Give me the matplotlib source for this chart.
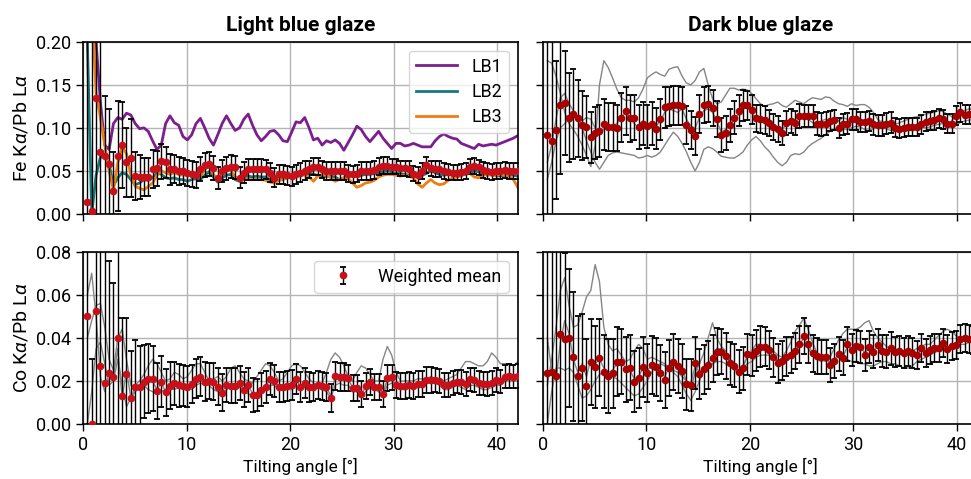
import numpy as np
import matplotlib.pyplot as plt

plt.rcParams['font.family'] = ['Roboto', 'DejaVu Sans']
plt.rcParams['mathtext.fontset'] = 'custom'
plt.rcParams['mathtext.rm'] = 'Roboto'
plt.rcParams['mathtext.it'] = 'Roboto:italic'
plt.rcParams['font.size'] = 12

# tilting angle grid, degrees (100 steps of 0.42)
angle = np.arange(1, 101) * 0.42

# ---- Fe Ka / Pb La, light blue glaze (values x1000) ----
fe_lb_mean = [14, 4, 135, 72, 67, 58, 27, 67, 80, 60,
              65, 44, 43, 43, 43, 52, 53, 61, 60, 52,
              52, 50, 50, 48, 46, 45, 52, 57, 58, 53,
              42, 50, 53, 55, 54, 42, 48, 52, 52, 52,
              52, 52, 48, 42, 46, 46, 45, 44, 46, 48,
              50, 52, 55, 55, 52, 50, 50, 50, 50, 50,
              47, 46, 47, 50, 50, 50, 51, 55, 56, 56,
              55, 55, 53, 53, 52, 47, 45, 50, 57, 53,
              52, 52, 50, 49, 48, 48, 49, 50, 55, 56,
              54, 51, 50, 49, 50, 50, 51, 50, 50, 50]
fe_lb_err = [300, 300, 200, 150, 70, 64, 45, 64, 50, 40,
             45, 28, 25, 22, 22, 22, 20, 20, 18, 18,
             16, 16, 15, 15, 15, 15, 14, 14, 14, 14,
             13, 13, 13, 13, 13, 12, 12, 12, 12, 12,
             12, 11, 11, 11, 11, 11, 11, 11, 11, 11,
             11, 10, 10, 10, 10, 10, 10, 10, 10, 10,
             10, 10, 10, 10, 10, 10, 10, 10, 10, 10,
             9, 9, 9, 9, 9, 9, 9, 9, 9, 9,
             9, 9, 9, 9, 9, 9, 9, 9, 9, 9,
             9, 9, 9, 9, 9, 9, 9, 9, 9, 9]
fe_lb1 = [400, 300, 200, 130, 80, 75, 105, 112, 110, 117,
          115, 105, 99, 100, 96, 85, 75, 80, 105, 114,
          106, 103, 90, 86, 92, 105, 111, 100, 88, 80,
          92, 105, 114, 105, 97, 100, 110, 116, 103, 92,
          85, 90, 96, 97, 92, 85, 84, 95, 107, 106,
          112, 100, 86, 88, 80, 85, 83, 86, 82, 74,
          83, 92, 102, 98, 90, 84, 90, 96, 88, 82,
          76, 82, 82, 79, 80, 82, 80, 78, 78, 78,
          85, 90, 93, 90, 88, 87, 82, 80, 78, 76,
          81, 79, 80, 81, 80, 82, 84, 86, 88, 91]
fe_lb2 = [200, 0, 45, 66, 67, 58, 33, 42, 48, 46,
          40, 34, 36, 40, 39, 42, 48, 46, 42, 41,
          42, 40, 40, 38, 40, 41, 40, 45, 49, 43,
          37, 42, 45, 46, 40, 38, 43, 44, 43, 44,
          43, 43, 40, 38, 39, 41, 42, 43, 44, 45,
          46, 47, 46, 45, 43, 44, 44, 43, 40, 42,
          43, 45, 44, 45, 46, 46, 47, 48, 49, 50,
          49, 47, 47, 46, 45, 46, 44, 45, 47, 50,
          48, 46, 45, 46, 45, 44, 45, 46, 48, 50,
          49, 47, 45, 46, 45, 44, 45, 46, 45, 44]
fe_lb3 = [350, 250, 140, 112, 80, 50, 28, 60, 78, 70,
          45, 32, 30, 28, 32, 36, 45, 50, 48, 46,
          48, 46, 45, 46, 48, 45, 43, 52, 55, 46,
          40, 48, 52, 50, 43, 40, 41, 40, 40, 40,
          40, 39, 37, 36, 39, 40, 42, 44, 45, 46,
          45, 43, 38, 44, 46, 45, 42, 38, 40, 42,
          41, 36, 31, 33, 36, 37, 39, 43, 45, 46,
          46, 45, 44, 45, 44, 42, 35, 31, 36, 40,
          36, 34, 35, 39, 42, 43, 44, 48, 47, 43,
          42, 45, 46, 45, 45, 46, 45, 44, 40, 31]

# ---- Fe Ka / Pb La, dark blue glaze (values x1000) ----
fe_db_mean = [92, 85, 98, 127, 129, 112, 116, 111, 103, 101,
              89, 94, 96, 104, 101, 101, 100, 112, 120, 111,
              112, 101, 105, 102, 105, 99, 110, 124, 125, 126,
              126, 125, 103, 98, 91, 116, 127, 128, 123, 110,
              92, 94, 103, 112, 120, 126, 126, 121, 111, 110,
              109, 106, 101, 99, 94, 106, 108, 106, 114, 114,
              114, 114, 105, 104, 105, 108, 109, 100, 104, 105,
              110, 110, 107, 107, 108, 104, 103, 103, 105, 106,
              100, 99, 100, 101, 101, 101, 104, 107, 108, 109,
              111, 110, 105, 105, 114, 118, 115, 116, 115, 114]
fe_db_err = [300, 300, 80, 80, 60, 52, 52, 45, 40, 36,
             30, 30, 30, 30, 28, 28, 27, 28, 28, 27,
             26, 26, 25, 25, 25, 24, 24, 24, 23, 23,
             23, 22, 22, 22, 22, 22, 21, 21, 21, 21,
             20, 20, 19, 19, 18, 18, 17, 17, 16, 16,
             16, 15, 15, 15, 14, 14, 14, 14, 14, 13,
             13, 13, 13, 13, 13, 12, 12, 12, 12, 12,
             12, 12, 12, 12, 12, 12, 12, 12, 12, 12,
             11, 11, 11, 11, 11, 11, 11, 11, 11, 11,
             11, 11, 11, 11, 11, 11, 11, 11, 11, 11]
fe_db1 = [178, 175, 160, 140, 118, 105, 98, 90, 80, 68,
          55, 80, 150, 178, 170, 158, 145, 135, 132, 132,
          130, 135, 145, 158, 162, 165, 162, 160, 168, 170,
          171, 160, 152, 150, 155, 165, 169, 150, 134, 128,
          130, 138, 146, 146, 144, 145, 144, 140, 134, 128,
          125, 127, 128, 130, 126, 124, 128, 132, 130, 128,
          132, 135, 134, 133, 136, 135, 131, 128, 127, 125,
          128, 126, 127, 127, 124, 118, 110, 106, 104, 105,
          104, 106, 108, 110, 112, 113, 114, 116, 117, 118,
          120, 119, 116, 113, 112, 116, 120, 122, 121, 120]
fe_db2 = [60, 80, 110, 135, 140, 128, 120, 112, 108, 112,
          110, 100, 95, 98, 100, 102, 105, 112, 118, 110,
          105, 100, 108, 104, 100, 102, 108, 118, 122, 120,
          118, 122, 110, 102, 100, 112, 120, 122, 118, 108,
          95, 98, 104, 110, 116, 122, 124, 118, 110, 112,
          110, 106, 102, 100, 98, 104, 106, 110, 116, 114,
          110, 106, 104, 108, 110, 104, 106, 108, 112, 110,
          106, 108, 110, 106, 104, 104, 106, 108, 104, 100,
          99, 100, 102, 100, 102, 104, 106, 108, 110, 112,
          110, 106, 104, 108, 114, 118, 116, 114, 112, 112]
fe_db3 = [40, 60, 85, 100, 105, 110, 115, 112, 100, 85,
          72, 60, 52, 60, 68, 71, 72, 71, 70, 69,
          68, 65, 66, 68, 66, 68, 72, 80, 88, 95,
          90, 82, 72, 60, 50, 60, 75, 78, 76, 72,
          67, 66, 65, 65, 68, 72, 80, 86, 90, 85,
          78, 73, 66, 60, 56, 60, 68, 70, 69, 72,
          78, 82, 85, 88, 92, 96, 98, 100, 99, 98,
          100, 102, 101, 98, 97, 99, 101, 100, 99, 97,
          96, 97, 98, 100, 101, 102, 101, 100, 101, 103,
          104, 105, 106, 105, 104, 106, 108, 109, 110, 110]

# ---- Co Ka / Pb La, light blue glaze (values x1000) ----
co_lb_mean = [50.0, 0.0, 52.6, 27.0, 19.0, 23.5, 21.7, 40.0, 13.0, 23.0,
              12.0, 17.0, 17.3, 19.7, 21.0, 21.0, 15.3, 19.7, 14.7, 17.8,
              19.0, 18.0, 17.8, 17.3, 18.6, 21.0, 22.0, 19.7, 20.0, 19.7,
              17.3, 14.6, 18.0, 17.8, 17.8, 19.0, 16.0, 18.0, 13.5, 13.5,
              16.0, 17.3, 21.0, 20.0, 17.0, 17.3, 17.7, 18.0, 21.0, 17.3,
              19.0, 17.3, 17.0, 18.0, 17.6, 17.2, 12.0, 22.4, 22.0, 21.8,
              21.5, 16.8, 16.6, 14.0, 17.5, 19.7, 17.2, 17.0, 14.0, 21.2,
              21.6, 18.0, 17.6, 17.8, 18.0, 17.8, 18.6, 18.6, 20.5, 20.4,
              20.3, 20.0, 18.0, 18.2, 19.0, 19.7, 19.5, 18.5, 20.7, 20.5,
              19.2, 18.8, 18.5, 19.0, 20.5, 19.8, 22.0, 22.2, 22.0, 22.2]
co_lb_err = [80, 30, 100, 100, 100, 52, 44, 60, 36, 26,
             22, 22, 19, 17, 16, 15, 13, 12, 11, 11,
             10, 10, 9.5, 9.5, 9, 9, 9, 9, 8.5, 8.5,
             8.5, 8.5, 8, 8, 8, 8, 8, 8, 8, 7.5,
             7.5, 7.5, 7.5, 7.5, 7, 7, 7, 7, 7, 7,
             7, 7, 6.5, 6.5, 6.5, 6.5, 6.5, 6.5, 6.5, 6.5,
             6, 6, 6, 6, 6, 6, 6, 6, 6, 6,
             6, 6, 6, 6, 6, 6, 6, 6, 6, 6,
             5.5, 5.5, 5.5, 5.5, 5.5, 5.5, 5.5, 5.5, 5.5, 5.5,
             5.5, 5.5, 5.5, 5.5, 5.5, 5.5, 5.5, 5.5, 5.5, 5.5]
co_lb1 = [40, 48, 55, 56, 45, 30, 25, 40, 44, 30,
          18, 18, 20, 23, 27, 30, 28, 24, 20, 21,
          24, 23, 21, 22, 25, 28, 28, 24, 20, 21,
          22, 20, 22, 26, 27, 24, 21, 20, 19, 22,
          25, 28, 27, 24, 20, 21, 24, 27, 28, 27,
          24, 21, 19, 18, 19, 24, 30, 33, 31, 27,
          22, 20, 24, 27, 26, 23, 20, 20, 30, 36,
          32, 24, 20, 20, 20, 20, 21, 21, 21, 22,
          21, 21, 20, 21, 22, 23, 26, 29, 29, 28,
          27, 27, 29, 33, 31, 28, 28, 28, 27, 29]
co_lb2 = [0, 15, 35, 38, 28, 18, 20, 30, 18, 8,
          12, 15, 17, 18, 16, 15, 14, 15, 16, 17,
          16, 17, 18, 17, 16, 18, 19, 18, 18, 16,
          15, 14, 16, 17, 16, 17, 15, 14, 13, 13,
          15, 16, 18, 18, 16, 16, 16, 16, 18, 16,
          17, 16, 16, 17, 16, 15, 12, 18, 19, 18,
          18, 15, 15, 13, 15, 17, 16, 15, 13, 18,
          19, 17, 16, 16, 17, 17, 17, 18, 19, 19,
          19, 18, 16, 16, 17, 18, 17, 16, 18, 18,
          17, 16, 16, 17, 18, 18, 20, 20, 20, 20]
co_lb3 = [60, 70, 50, 22, 15, 25, 22, 35, 12, 25,
          12, 17, 18, 19, 21, 20, 16, 19, 15, 18,
          19, 18, 18, 17, 19, 21, 22, 20, 20, 20,
          17, 15, 18, 18, 18, 19, 16, 18, 14, 14,
          16, 17, 21, 20, 17, 17, 18, 18, 21, 17,
          19, 17, 17, 18, 18, 17, 13, 22, 22, 22,
          21, 17, 17, 14, 17, 20, 17, 17, 14, 21,
          21, 18, 18, 18, 18, 18, 19, 19, 20, 20,
          20, 20, 18, 18, 19, 20, 19, 18, 20, 20,
          19, 19, 18, 19, 20, 20, 22, 22, 22, 22]

# ---- Co Ka / Pb La, dark blue glaze (values x1000) ----
co_db_mean = [23.8, 24.3, 22.3, 41.6, 39.3, 40.1, 31.3, 22.3, 26.2, 17.6,
              28.6, 26.6, 30.8, 24.3, 22.3, 23.5, 29.0, 29.0, 25.4, 26.2,
              19.7, 21.5, 26.6, 23.8, 27.4, 26.6, 23.8, 20.4, 26.2, 29.0,
              27.0, 24.6, 18.4, 18.1, 28.2, 23.1, 25.4, 27.4, 30.5, 33.6,
              33.6, 31.6, 28.2, 27.0, 24.3, 25.8, 32.4, 32.0, 34.0, 35.9,
              35.9, 34.4, 31.0, 28.2, 29.4, 31.3, 32.0, 33.9, 37.0, 40.9,
              37.0, 32.8, 31.6, 31.0, 31.0, 27.4, 29.3, 32.5, 30.8, 37.2,
              34.4, 36.2, 35.9, 32.0, 35.9, 33.6, 36.7, 33.9, 33.6, 35.1,
              33.6, 33.9, 32.8, 33.9, 32.8, 32.0, 35.1, 33.1, 34.4, 35.1,
              35.4, 37.8, 34.7, 36.4, 36.7, 39.3, 39.8, 39.5, 39.0, 39.0]
co_db_err = [100, 100, 100, 100, 40, 32, 30, 28, 25, 22,
             20, 19, 18, 17, 17, 16, 16, 15, 15, 15,
             14, 14, 14, 13.5, 13.5, 13.5, 13, 13, 13, 13,
             12.5, 12.5, 12, 12, 12, 11.5, 11.5, 11, 11, 11,
             10.5, 10.5, 10, 10, 10, 10, 9.5, 9.5, 9.5, 9.5,
             9, 9, 9, 9, 9, 9, 8.5, 8.5, 8.5, 8.5,
             8.5, 8.5, 8.5, 8, 8, 8, 8, 8, 8, 8,
             7.5, 7.5, 7.5, 7.5, 7.5, 7.5, 7.5, 7.5, 7.5, 7.5,
             7, 7, 7, 7, 7, 6.5, 6.5, 6.5, 6.5, 6.5,
             6.5, 6.5, 6.5, 6.5, 6.5, 6.5, 6.5, 6.5, 6.5, 6.5]
co_db1 = [18, 30, 45, 62, 68, 55, 45, 46, 52, 59,
          62, 74, 66, 45, 37, 34, 35, 32, 29, 30,
          34, 37, 35, 30, 31, 30, 29, 28, 26, 25,
          24, 22, 20, 16, 24, 28, 33, 40, 47, 40,
          36, 34, 29, 25, 24, 27, 31, 34, 37, 37,
          36, 36, 34, 32, 31, 34, 38, 43, 46, 49,
          44, 38, 33, 30, 29, 31, 35, 39, 42, 44,
          44, 44, 45, 47, 48, 43, 40, 38, 36, 35,
          34, 34, 33, 33, 34, 35, 36, 37, 37, 39,
          41, 43, 44, 43, 41, 40, 39, 38, 38, 39]
co_db2 = [0, 15, 26, 26, 25, 26, 24, 18, 12, 13,
          16, 20, 23, 24, 23, 22, 21, 19, 17, 15,
          13, 14, 17, 20, 24, 27, 28, 27, 25, 24,
          22, 18, 14, 11, 15, 20, 25, 26, 28, 29,
          29, 28, 27, 26, 25, 26, 28, 29, 31, 32,
          32, 32, 31, 30, 29, 31, 33, 34, 36, 37,
          35, 32, 30, 29, 30, 29, 30, 31, 30, 30,
          29, 29, 28, 28, 27, 27, 28, 29, 29, 28,
          28, 27, 26, 26, 27, 29, 30, 31, 32, 33,
          34, 35, 35, 36, 36, 37, 37, 38, 38, 38]
co_db3 = [40, 25, 20, 38, 48, 42, 30, 24, 28, 22,
          30, 28, 30, 26, 24, 25, 28, 29, 26, 25,
          21, 22, 26, 25, 27, 26, 24, 22, 26, 28,
          27, 25, 20, 19, 27, 24, 26, 28, 31, 35,
          35, 32, 29, 27, 25, 26, 32, 33, 34, 36,
          36, 34, 31, 29, 30, 31, 32, 34, 37, 40,
          37, 33, 32, 31, 31, 28, 30, 32, 31, 36,
          35, 36, 36, 33, 35, 34, 36, 34, 34, 35,
          34, 34, 33, 34, 33, 32, 35, 33, 34, 35,
          35, 37, 35, 36, 37, 39, 40, 40, 39, 39]

lb_colors = ['#7b1f8e', '#17787a', '#f07d12']
grey = '#858585'


def draw(ax, mean, err, lines, colors, labels, lw, red):
    handles = []
    for y, c, lab in zip(lines, colors, labels):
        h, = ax.plot(angle, np.array(y) / 1000, color=c, lw=lw, label=lab, zorder=2)
        handles.append(h)
    eb = ax.errorbar(angle, np.array(mean) / 1000, yerr=np.array(err) / 1000,
                     fmt='o', color=red, ms=4.5, ecolor='black', elinewidth=1.0,
                     capsize=2.2, capthick=1.3, zorder=3, label='Weighted mean')
    ax.set_xlim(0, 42)
    ax.set_xticks([0, 10, 20, 30, 40])
    ax.grid(True, color='#b4b4b4', lw=1)
    ax.set_axisbelow(True)
    ax.tick_params(direction='out', length=5, width=1, labelsize=13)
    for s in ax.spines.values():
        s.set_linewidth(1.2)
    return handles, eb


fig = plt.figure(figsize=(9.71, 4.79), dpi=100)
w, h = 0.4477, 0.3597
ax_tl = fig.add_axes([0.0855, 0.5532, w, h])
ax_tr = fig.add_axes([0.5592, 0.5532, w, h])
ax_bl = fig.add_axes([0.0855, 0.1148, w, h])
ax_br = fig.add_axes([0.5592, 0.1148, w, h])

hs, _ = draw(ax_tl, fe_lb_mean, fe_lb_err, [fe_lb1, fe_lb2, fe_lb3],
             lb_colors, ['LB1', 'LB2', 'LB3'], 2.0, '#c8101a')
draw(ax_tr, fe_db_mean, fe_db_err, [fe_db1, fe_db2, fe_db3],
     [grey] * 3, ['DB1', 'DB2', 'DB3'], 1.0, '#a80000')
_, eb = draw(ax_bl, co_lb_mean, co_lb_err, [co_lb1, co_lb2, co_lb3],
             [grey] * 3, ['LB1', 'LB2', 'LB3'], 1.0, '#c8101a')
draw(ax_br, co_db_mean, co_db_err, [co_db1, co_db2, co_db3],
     [grey] * 3, ['DB1', 'DB2', 'DB3'], 1.0, '#a80000')

for ax in (ax_tl, ax_tr):
    ax.set_ylim(0, 0.20)
    ax.set_yticks([0, 0.05, 0.10, 0.15, 0.20])
    ax.tick_params(labelbottom=False)
for ax in (ax_bl, ax_br):
    ax.set_ylim(0, 0.08)
    ax.set_yticks([0, 0.02, 0.04, 0.06, 0.08])
    ax.set_xlabel('Tilting angle [°]', fontsize=12.5, labelpad=3)
for ax in (ax_tr, ax_br):
    ax.tick_params(labelleft=False)
ax_tl.yaxis.set_major_formatter(plt.FormatStrFormatter('%.2f'))
ax_bl.yaxis.set_major_formatter(plt.FormatStrFormatter('%.2f'))

ax_tl.set_ylabel(r'Fe K$\alpha$/Pb L$\alpha$', fontsize=14)
ax_bl.set_ylabel(r'Co K$\alpha$/Pb L$\alpha$', fontsize=14)
ax_tl.set_title('Light blue glaze', fontsize=15, fontweight='bold', pad=8)
ax_tr.set_title('Dark blue glaze', fontsize=15, fontweight='bold', pad=8)

ax_tl.legend(handles=hs, loc='upper right', fontsize=12.8, handlelength=2.3,
             labelspacing=0.4)
ax_bl.legend(handles=[eb], loc='upper right', fontsize=12.8, handlelength=2.4)

fig.savefig('out.png', dpi=100)
